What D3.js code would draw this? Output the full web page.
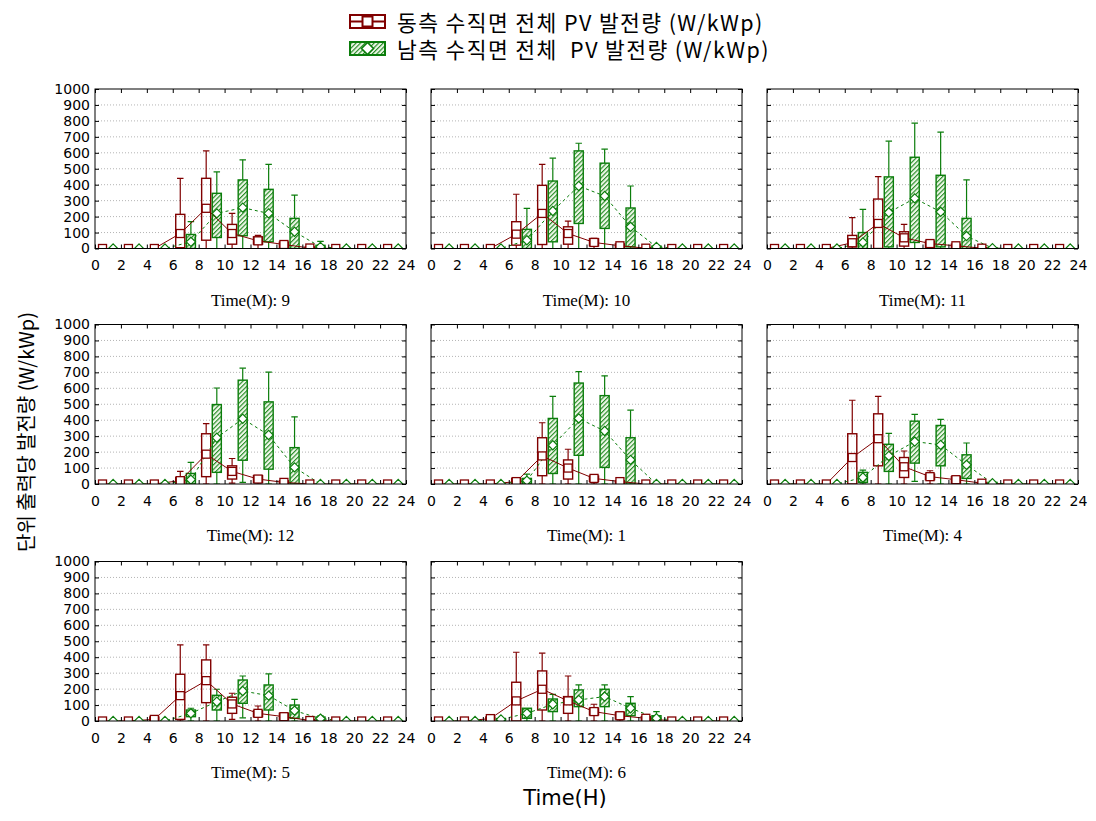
<!DOCTYPE html>
<html><head><meta charset="utf-8">
<script src="https://cdn.jsdelivr.net/npm/d3@7"></script>
<style>body{margin:0;background:#fff}</style>
</head><body>
<svg id="chart" width="1096" height="821"></svg>
<script>
// ---------------- data ----------------
const months = ["9", "10", "11", "12", "1", "4", "5", "6"];
const hourGroups = [0, 2, 4, 6, 8, 10, 12, 14, 16, 18, 20, 22];
const xTicks = [0, 2, 4, 6, 8, 10, 12, 14, 16, 18, 20, 22, 24];
const yTicks = [0, 100, 200, 300, 400, 500, 600, 700, 800, 900, 1000];
const legendLabels = ["동측 수직면 전체 PV 발전량 (W/kWp)", "남측 수직면 전체  PV 발전량 (W/kWp)"];

// East facade (one row per month panel, 12 hour groups)
const eastMin = [
  [0,0,0,0,0,0,0,0,0,0,0,0],
  [0,0,0,0,0,0,0,0,0,0,0,0],
  [0,0,0,0,0,0,0,0,0,0,0,0],
  [0,0,0,0,0,5,0,0,0,0,0,0],
  [0,0,0,0,0,0,0,0,0,0,0,0],
  [0,0,0,0,0,0,0,0,0,0,0,0],
  [0,0,0,0,0,10,0,0,0,0,0,0],
  [0,0,0,0,0,0,0,0,0,0,0,0]
];
const eastQ1 = [
  [0,0,0,5,52,27,27,0,0,0,0,0],
  [0,0,0,21,25,27,17,0,0,0,0,0],
  [0,0,0,10,0,15,6,0,0,0,0,0],
  [0,0,0,0,46,31,10,0,0,0,0,0],
  [0,0,0,0,52,31,17,0,0,0,0,0],
  [0,0,0,0,114,41,27,4,0,0,0,0],
  [0,0,0,10,115,48,27,6,0,0,0,0],
  [0,0,0,0,69,48,38,13,0,0,0,0]
];
const eastMed = [
  [0,0,0,94,252,94,48,25,3,0,0,0],
  [0,0,0,90,220,94,38,17,2,0,0,0],
  [0,0,0,36,157,67,31,17,2,0,0,0],
  [0,0,0,21,187,79,31,10,0,0,0,0],
  [0,0,0,15,176,100,35,15,0,0,0,0],
  [0,0,0,166,284,108,46,27,5,0,0,0],
  [0,0,10,159,253,107,48,27,3,0,0,0],
  [0,0,15,126,199,126,59,33,17,0,0,0]
];
const eastQ3 = [
  [0,0,0,214,440,151,73,40,10,0,0,0],
  [0,0,0,168,396,136,61,29,5,0,0,0],
  [0,0,0,82,310,105,46,27,5,0,0,0],
  [0,0,0,41,315,114,52,20,0,0,0,0],
  [0,0,0,35,290,151,50,20,0,0,0,0],
  [0,0,0,315,440,166,62,46,10,0,0,0],
  [0,0,25,293,383,149,65,48,8,0,0,0],
  [0,0,25,243,314,153,80,54,27,0,0,0]
];
const eastMax = [
  [0,0,0,440,612,220,82,40,10,0,0,0],
  [0,0,0,340,528,172,63,30,5,0,0,0],
  [0,0,0,193,451,151,46,27,5,0,0,0],
  [0,0,0,79,378,160,52,20,0,0,0,0],
  [0,0,0,35,384,218,50,20,0,0,0,0],
  [0,0,0,525,550,207,83,46,10,0,0,0],
  [0,0,25,477,477,174,94,48,8,0,0,0],
  [0,0,25,431,425,282,105,54,27,0,0,0]
];

// South facade
const southMin = [
  [0,0,0,0,0,0,0,0,0,0,0,0],
  [0,0,0,0,0,0,0,0,0,0,0,0],
  [0,0,0,0,0,0,0,0,0,0,0,0],
  [0,0,0,0,0,10,0,0,0,0,0,0],
  [0,0,0,0,0,0,0,0,0,0,0,0],
  [0,0,0,0,0,17,0,0,0,0,0,0],
  [0,0,0,0,0,20,0,0,0,0,0,0],
  [0,0,0,0,0,0,0,0,0,0,0,0]
];
const southQ1 = [
  [0,0,0,0,69,80,42,0,0,0,0,0],
  [0,0,0,0,42,157,126,10,0,0,0,0],
  [0,0,0,0,10,38,10,0,0,0,0,0],
  [0,0,0,0,73,149,93,0,0,0,0,0],
  [0,0,0,0,66,180,104,0,0,0,0,0],
  [0,0,0,10,79,131,114,35,0,0,0,0],
  [0,0,0,27,69,111,69,17,0,0,0,0],
  [0,0,0,17,59,90,90,33,0,0,0,0]
];
const southMed = [
  [0,0,0,42,220,256,220,105,10,0,0,0],
  [0,0,0,52,235,392,329,136,10,0,0,0],
  [0,0,0,38,226,314,230,78,2,0,0,0],
  [0,0,0,27,290,409,307,104,0,0,0,0],
  [0,0,0,21,243,411,332,151,0,0,0,0],
  [0,0,0,41,176,266,245,120,5,0,0,0],
  [0,0,0,48,121,188,159,65,15,0,0,0],
  [0,0,10,48,105,132,153,80,17,0,0,0]
];
const southQ3 = [
  [0,0,0,88,346,430,371,189,20,0,0,0],
  [0,0,0,120,423,612,535,254,15,0,0,0],
  [0,0,0,100,449,572,459,189,5,0,0,0],
  [0,0,0,66,498,651,515,228,0,0,0,0],
  [0,0,0,35,411,633,554,290,0,0,0,0],
  [0,0,0,73,249,394,367,183,10,0,0,0],
  [0,0,0,69,161,257,226,100,25,0,0,0],
  [0,0,15,80,138,195,199,111,33,0,0,0]
];
const southMax = [
  [0,0,0,168,480,556,528,335,45,0,0,0],
  [0,0,0,252,566,660,623,392,20,0,0,0],
  [0,0,0,245,673,786,730,430,10,0,0,0],
  [0,0,0,135,602,726,701,421,0,0,0,0],
  [0,0,0,62,550,705,678,463,0,0,0,0],
  [0,0,0,87,317,436,405,257,15,0,0,0],
  [0,0,0,80,199,282,295,136,33,0,0,0],
  [0,0,15,80,167,226,226,153,59,0,0,0]
];

// ---------------- layout / style ----------------
const RED = "#800000", GREEN = "#0b7d0b";
const colLeft = [95, 431, 767], rowTop = [89, 324.5, 561.5];
const PW = 311, PH = 159.5;
const eastOff = 0.58, southOff = 1.4, boxW = 0.7, capW = 0.5;

const svg = d3.select("#chart");
const defs = svg.append("defs");
const pat = defs.append("pattern").attr("id", "hatch").attr("patternUnits", "userSpaceOnUse")
  .attr("width", 3.2).attr("height", 3.2).attr("patternTransform", "rotate(45)");
pat.append("rect").attr("width", 3.2).attr("height", 3.2).attr("fill", "#eef8e8");
pat.append("line").attr("x1", 0.6).attr("y1", 0).attr("x2", 0.6).attr("y2", 3.2)
  .attr("stroke", GREEN).attr("stroke-width", 1);

function diamond(s) { return `M0,${-s}L${s},0L0,${s}L${-s},0Z`; }

months.forEach((m, p) => {
  const col = p % 3, row = Math.floor(p / 3);
  const L = colLeft[col], T = rowTop[row];
  const x = d3.scaleLinear().domain([0, 24]).range([0, PW]);
  const y = d3.scaleLinear().domain([0, 1000]).range([PH, 0]);
  const g = svg.append("g").attr("transform", `translate(${L},${T})`);
  defs.append("clipPath").attr("id", "clip" + p).append("rect")
    .attr("width", PW).attr("height", PH);

  // grid
  g.append("g").selectAll("line").data(yTicks.filter(v => v > 0 && v < 1000)).join("line")
    .attr("x1", 0).attr("x2", PW).attr("y1", d => y(d)).attr("y2", d => y(d))
    .attr("stroke", "#b4b4b4").attr("stroke-width", 1).attr("stroke-dasharray", "1,2");

  const plot = g.append("g").attr("clip-path", `url(#clip${p})`);

  const series = [
    {off: eastOff, mn: eastMin[p], q1: eastQ1[p], md: eastMed[p], q3: eastQ3[p], mx: eastMax[p], color: RED, fill: "none", dash: null},
    {off: southOff, mn: southMin[p], q1: southQ1[p], md: southMed[p], q3: southQ3[p], mx: southMax[p], color: GREEN, fill: "url(#hatch)", dash: "3,3"}
  ];

  series.forEach(s => {
    const idx = hourGroups.map((h, i) => i);
    const cx = i => x(hourGroups[i] + s.off);
    const sg = plot.append("g");
    // whiskers
    sg.selectAll(".wl").data(idx).join("line")
      .attr("x1", cx).attr("x2", cx).attr("y1", i => y(s.mn[i])).attr("y2", i => y(s.q1[i]))
      .attr("stroke", s.color).attr("stroke-width", 1.2);
    sg.selectAll(".wh").data(idx).join("line")
      .attr("x1", cx).attr("x2", cx).attr("y1", i => y(s.q3[i])).attr("y2", i => y(s.mx[i]))
      .attr("stroke", s.color).attr("stroke-width", 1.2);
    // caps
    const capHalf = x(capW / 2) - x(0);
    sg.selectAll(".ct").data(idx.filter(i => s.mx[i] > s.q3[i])).join("line")
      .attr("x1", i => cx(i) - capHalf).attr("x2", i => cx(i) + capHalf)
      .attr("y1", i => y(s.mx[i])).attr("y2", i => y(s.mx[i]))
      .attr("stroke", s.color).attr("stroke-width", 1.2);
    sg.selectAll(".cb").data(idx.filter(i => s.mn[i] < s.q1[i])).join("line")
      .attr("x1", i => cx(i) - capHalf).attr("x2", i => cx(i) + capHalf)
      .attr("y1", i => y(s.mn[i])).attr("y2", i => y(s.mn[i]))
      .attr("stroke", s.color).attr("stroke-width", 1.2);
    // boxes
    const bw = x(boxW) - x(0);
    sg.selectAll("rect").data(idx.filter(i => s.q3[i] > s.q1[i])).join("rect")
      .attr("x", i => cx(i) - bw / 2).attr("width", bw)
      .attr("y", i => y(s.q3[i])).attr("height", i => y(s.q1[i]) - y(s.q3[i]))
      .attr("fill", s.fill).attr("stroke", s.color).attr("stroke-width", 1.4);
  });

  // median lines
  series.forEach(s => {
    const line = d3.line().x((d, i) => x(hourGroups[i] + s.off)).y(d => y(d));
    plot.append("path").attr("d", line(s.md)).attr("fill", "none")
      .attr("stroke", s.color).attr("stroke-width", 1)
      .attr("stroke-dasharray", s.dash);
  });

  // markers
  plot.selectAll(".em").data(eastMed[p]).join("rect")
    .attr("x", (d, i) => x(hourGroups[i] + eastOff) - 4).attr("y", d => y(d) - 4)
    .attr("width", 8).attr("height", 8)
    .attr("fill", "#fff").attr("stroke", RED).attr("stroke-width", 1.3);
  plot.selectAll(".sm").data(southMed[p]).join("path")
    .attr("transform", (d, i) => `translate(${x(hourGroups[i] + southOff)},${y(d)})`)
    .attr("d", diamond(4.6))
    .attr("fill", "#fff").attr("stroke", GREEN).attr("stroke-width", 1.2);

  // axes (inside ticks)
  const fmt = d3.format("d");
  const axB = d3.axisBottom(x).tickValues(xTicks).tickFormat(fmt).tickSizeInner(-4).tickSizeOuter(0).tickPadding(12);
  const gb = g.append("g").attr("transform", `translate(0,${PH})`).call(axB);
  const axT = d3.axisTop(x).tickValues(xTicks).tickSizeInner(-4).tickSizeOuter(0).tickFormat("");
  const gt = g.append("g").call(axT);
  const axL = d3.axisLeft(y).tickValues(yTicks).tickFormat(col === 0 ? fmt : "").tickSizeInner(-4).tickSizeOuter(0).tickPadding(5);
  const gl = g.append("g").call(axL);
  const axR = d3.axisRight(y).tickValues(yTicks).tickSizeInner(-4).tickSizeOuter(0).tickFormat("");
  const gr = g.append("g").attr("transform", `translate(${PW},0)`).call(axR);
  [gb, gt, gl, gr].forEach(a => {
    a.select(".domain").remove();
    a.selectAll("line").attr("stroke", "#000");
    a.selectAll("text").attr("font-family", "DejaVu Sans").attr("font-size", 14).attr("fill", "#000");
  });
  gb.selectAll("text").attr("dy", "0.71em");

  // frame
  g.append("rect").attr("width", PW).attr("height", PH).attr("fill", "none")
    .attr("stroke", "#000").attr("stroke-width", 1);

  // panel title
  g.append("text").attr("x", PW / 2).attr("y", PH + 57).attr("text-anchor", "middle")
    .attr("font-family", "Liberation Serif").attr("font-size", 17).text(`Time(M): ${m}`);
});

// axis titles
svg.append("text").attr("x", 565).attr("y", 805).attr("text-anchor", "middle")
  .attr("font-family", "DejaVu Sans").attr("font-size", 21).text("Time(H)");
svg.append("text").attr("transform", "translate(34,432) rotate(-90)").attr("text-anchor", "middle")
  .attr("font-family", "Noto Sans CJK KR").attr("font-size", 20).text("단위 출력당 발전량 (W/kWp)");

// legend
const lg = svg.append("g");
const iconX = 350, iconW = 35, iconH = 13;
const rowsY = [15, 42];
// east icon
lg.append("rect").attr("x", iconX).attr("y", rowsY[0]).attr("width", iconW).attr("height", iconH)
  .attr("fill", "#fff").attr("stroke", RED).attr("stroke-width", 2);
lg.append("line").attr("x1", iconX).attr("x2", iconX + iconW).attr("y1", rowsY[0] + iconH / 2).attr("y2", rowsY[0] + iconH / 2)
  .attr("stroke", RED).attr("stroke-width", 2);
lg.append("rect").attr("x", iconX + iconW / 2 - 5).attr("y", rowsY[0] + iconH / 2 - 5).attr("width", 10).attr("height", 10)
  .attr("fill", "#fff").attr("stroke", RED).attr("stroke-width", 2);
// south icon
lg.append("rect").attr("x", iconX).attr("y", rowsY[1]).attr("width", iconW).attr("height", iconH)
  .attr("fill", "url(#hatch)").attr("stroke", GREEN).attr("stroke-width", 2);
lg.append("path").attr("transform", `translate(${iconX + iconW / 2},${rowsY[1] + iconH / 2})`)
  .attr("d", diamond(6)).attr("fill", "#fff").attr("stroke", GREEN).attr("stroke-width", 1.6);
legendLabels.forEach((t, i) => {
  lg.append("text").attr("x", 397).attr("y", rowsY[i] + 16).attr("xml:space", "preserve")
    .style("white-space", "pre").attr("letter-spacing", 1.4)
    .attr("font-family", "Noto Sans CJK KR").attr("font-size", 21.5).text(t);
});
</script>
</body></html>
